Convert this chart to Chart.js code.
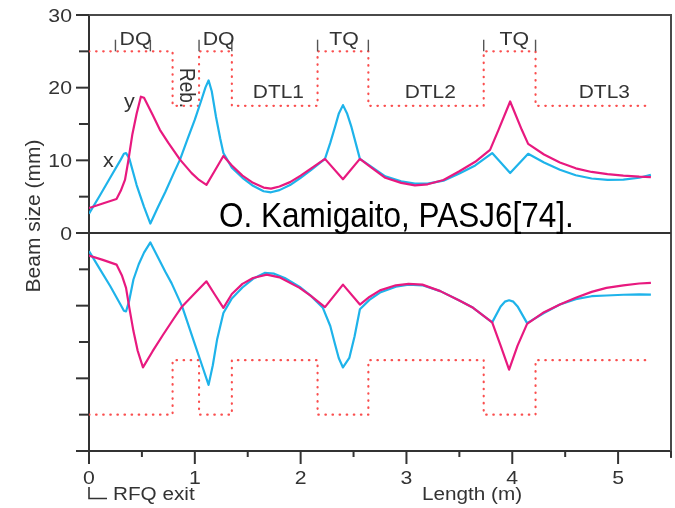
<!DOCTYPE html>
<html>
<head>
<meta charset="utf-8">
<script src="https://cdn.jsdelivr.net/npm/chart.js@4.4.1/dist/chart.umd.min.js"></script>
<style>
  html, body { margin: 0; padding: 0; background: #fff; }
  #wrap { width: 675px; height: 508px; }
</style>
</head>
<body>
<div id="wrap"><canvas id="c" width="675" height="508"></canvas></div>
<script>
// Beam envelope along the line after the RFQ exit (length in m, size in mm).
// Upper half: first tuning; lower half: second tuning, drawn below the axis.

// upper half, horizontal (x) envelope
const sXUpper = [0, 0.1, 0.2, 0.3, 0.33, 0.35, 0.38, 0.45, 0.52, 0.58, 0.65, 0.72, 0.8, 0.86, 0.93, 1.0, 1.06, 1.1, 1.13, 1.16, 1.2, 1.24, 1.27, 1.35, 1.45, 1.55, 1.65, 1.72, 1.8, 1.9, 2.0, 2.1, 2.23, 2.28, 2.325, 2.36, 2.40, 2.44, 2.48, 2.52, 2.56, 2.65, 2.8, 2.95, 3.08, 3.2, 3.35, 3.5, 3.65, 3.81, 3.98, 4.15, 4.3, 4.45, 4.6, 4.75, 4.9, 5.05, 5.2, 5.31];
const xUpper  = [2.65, 5.1, 7.6, 10.1, 10.9, 11.0, 10.3, 6.6, 3.6, 1.3, 3.5, 5.6, 8.2, 10.1, 12.9, 15.6, 18.2, 20.0, 21.0, 19.5, 16.0, 13.0, 11.0, 9.0, 7.6, 6.5, 5.75, 5.6, 5.9, 6.6, 7.6, 8.7, 10.2, 12.4, 14.6, 16.4, 17.6, 16.4, 14.6, 12.4, 10.2, 9.3, 7.8, 7.1, 6.8, 6.8, 7.2, 8.2, 9.3, 11.0, 8.25, 10.9, 9.7, 8.7, 7.95, 7.5, 7.3, 7.35, 7.6, 8.0];

// upper half, vertical (y) envelope
const sYUpper = [0, 0.13, 0.26, 0.3, 0.34, 0.37, 0.41, 0.45, 0.49, 0.52, 0.6, 0.67, 0.75, 0.86, 0.97, 1.04, 1.11, 1.19, 1.27, 1.35, 1.45, 1.55, 1.65, 1.72, 1.8, 1.9, 2.0, 2.1, 2.23, 2.40, 2.56, 2.65, 2.8, 2.95, 3.08, 3.2, 3.35, 3.5, 3.65, 3.79, 3.87, 3.98, 4.09, 4.15, 4.3, 4.45, 4.6, 4.75, 4.9, 5.05, 5.2, 5.31];
const yUpper  = [3.43, 4.05, 4.67, 5.8, 7.3, 9.8, 13.6, 16.4, 18.76, 18.6, 16.3, 14.2, 12.4, 10.1, 8.24, 7.3, 6.63, 8.6, 10.6, 9.3, 7.9, 6.9, 6.25, 6.1, 6.4, 7.0, 7.9, 8.9, 10.2, 7.4, 10.2, 9.2, 7.6, 6.9, 6.55, 6.7, 7.3, 8.5, 9.8, 11.44, 14.2, 18.1, 14.2, 12.27, 10.8, 9.7, 8.9, 8.4, 8.1, 7.9, 7.75, 7.7];

// lower half, horizontal (x) envelope
const sXLower = [0, 0.1, 0.2, 0.3, 0.33, 0.35, 0.38, 0.42, 0.47, 0.52, 0.58, 0.65, 0.72, 0.78, 0.88, 1.0, 1.07, 1.13, 1.17, 1.21, 1.27, 1.35, 1.45, 1.55, 1.66, 1.75, 1.85, 2.0, 2.1, 2.21, 2.28, 2.325, 2.36, 2.40, 2.46, 2.51, 2.56, 2.65, 2.75, 2.9, 3.02, 3.15, 3.32, 3.5, 3.63, 3.81, 3.89, 3.93, 3.97, 4.01, 4.05, 4.14, 4.3, 4.45, 4.6, 4.75, 4.89, 5.05, 5.2, 5.31];
const xLower  = [-2.5, -4.9, -7.3, -9.9, -10.7, -10.8, -9.3, -6.4, -4.3, -2.7, -1.3, -3.3, -5.3, -6.9, -10.1, -15.3, -18.3, -20.9, -18.2, -14.7, -11.0, -9.0, -7.5, -6.3, -5.5, -5.6, -6.2, -7.5, -8.7, -10.3, -12.8, -15.3, -17.2, -18.5, -17.2, -14.2, -10.5, -9.2, -8.2, -7.4, -7.1, -7.2, -8.0, -9.3, -10.3, -12.3, -10.1, -9.45, -9.26, -9.45, -10.1, -12.4, -11.0, -9.85, -9.1, -8.7, -8.6, -8.5, -8.45, -8.47];

// lower half, vertical (y) envelope
const sYLower = [0, 0.13, 0.26, 0.31, 0.35, 0.38, 0.42, 0.46, 0.51, 0.6, 0.7, 0.8, 0.88, 1.0, 1.11, 1.19, 1.27, 1.35, 1.45, 1.55, 1.68, 1.8, 1.99, 2.1, 2.23, 2.40, 2.56, 2.65, 2.75, 2.9, 3.02, 3.15, 3.32, 3.5, 3.63, 3.81, 3.89, 3.97, 4.05, 4.14, 4.3, 4.45, 4.6, 4.75, 4.89, 5.05, 5.2, 5.31];
const yLower  = [-3.1, -3.7, -4.35, -5.8, -7.55, -10.2, -13.5, -16.2, -18.5, -16.3, -14.0, -11.8, -10.1, -8.3, -6.65, -8.5, -10.3, -8.4, -7.0, -6.2, -5.73, -6.1, -7.55, -8.7, -10.2, -7.1, -9.85, -8.8, -7.9, -7.2, -7.0, -7.1, -8.0, -9.3, -10.3, -12.3, -15.5, -18.8, -15.5, -12.5, -10.9, -9.85, -8.9, -8.1, -7.55, -7.2, -6.95, -6.87];

// aperture outline (element boundaries in m, half-aperture in mm)
const apertureEdges  = [0, 0.79, 1.04, 1.35, 2.16, 2.64, 3.73, 4.22, 5.31];
const apertureLevels = [25, 17.5, 25, 17.5, 25, 17.5, 25, 17.5];

// quadrupole boundary marks above the outline
const quadMarks = [0.25, 0.58, 1.04, 1.35, 2.16, 2.64, 3.73, 4.22];

// element names: [text, centre position (m)]
const quadNames = [['DQ', 0.44], ['DQ', 1.225], ['TQ', 2.41], ['TQ', 4.02]];
const tankNames = [['DTL1', 1.79], ['DTL2', 3.225], ['DTL3', 4.87]];

// axis ticks
const lengthTicks = [0, 1, 2, 3, 4, 5];
const sizeTicks = [0, 10, 20, 30];

const CYAN = '#1eb3ea';
const MAGENTA = '#e8197f';
const APER = 'rgba(250, 70, 70, 0.95)';
const INK = '#333333';
const FONT = '"Liberation Sans", Arial, sans-serif';

const pts = (s, v) => s.map((p, i) => ({ x: p, y: v[i] }));
const aperturePts = sign => apertureEdges.map((e, i) => ({
  x: e, y: sign * apertureLevels[Math.min(i, apertureLevels.length - 1)]
}));

function text(ctx, str, x, y, o) {
  ctx.save();
  ctx.translate(x, y);
  if (o.rot) ctx.rotate(o.rot);
  ctx.scale(o.sx || 1, o.sy || 1);
  ctx.font = `${o.size}px ${FONT}`;
  ctx.fillStyle = o.color || INK;
  ctx.textAlign = o.align || 'center';
  ctx.textBaseline = 'alphabetic';
  ctx.fillText(str, 0, 0);
  ctx.restore();
}

function line(ctx, x1, y1, x2, y2) {
  ctx.beginPath();
  ctx.moveTo(x1, y1);
  ctx.lineTo(x2, y2);
  ctx.stroke();
}

// frame, ticks, labels and element annotations
const decorations = {
  id: 'decorations',
  afterDraw(chart) {
    const { ctx, chartArea: a, scales: { x, y } } = chart;
    ctx.save();
    ctx.lineCap = 'butt';

    // frame and zero line
    ctx.strokeStyle = '#4a4a4a';
    ctx.lineWidth = 2;
    line(ctx, a.left - 13, y.getPixelForValue(30), a.right + 1, y.getPixelForValue(30));
    line(ctx, a.right, a.top, a.right, a.bottom + 7);
    ctx.strokeStyle = INK;
    line(ctx, a.left - 13, y.getPixelForValue(0), a.right, y.getPixelForValue(0));

    // size ticks every 5 mm
    for (let v = -30; v <= 30; v += 5) {
      const py = y.getPixelForValue(v);
      const len = v % 10 === 0 ? 13 : 10;
      line(ctx, a.left - len, py, a.left, py);
    }
    // length ticks every 0.5 m
    for (let v = 0; v <= 5.5001; v += 0.5) {
      const px = x.getPixelForValue(v);
      const len = Math.abs(v - Math.round(v)) < 1e-6 ? 13 : 6;
      line(ctx, px, a.bottom, px, a.bottom + len);
    }

    // tick labels
    sizeTicks.forEach(v => text(ctx, String(v), a.left - 17, y.getPixelForValue(v) + 6.5,
      { size: 18, sx: 1.18, align: 'right' }));
    lengthTicks.forEach(v => text(ctx, String(v), x.getPixelForValue(v), 483.5,
      { size: 18, sx: 1.18 }));

    // axis titles
    text(ctx, 'Beam size (mm)', 40, 216, { size: 21, rot: -Math.PI / 2 });
    text(ctx, 'Length (m)', 472, 500, { size: 18, sx: 1.15 });

    // RFQ exit marker
    const x0 = x.getPixelForValue(0);
    ctx.lineWidth = 1.6;
    ctx.beginPath();
    ctx.moveTo(x0, 487);
    ctx.lineTo(x0, 498.5);
    ctx.lineTo(x0 + 18, 498.5);
    ctx.stroke();
    text(ctx, 'RFQ exit', x0 + 24, 499.5, { size: 18, sx: 1.15, align: 'left' });

    // quadrupole boundary marks
    ctx.strokeStyle = '#555';
    ctx.lineWidth = 1.4;
    quadMarks.forEach(s => {
      const px = x.getPixelForValue(s);
      line(ctx, px, y.getPixelForValue(25), px, y.getPixelForValue(26.6));
    });

    // element names
    quadNames.forEach(([t, s]) => text(ctx, t, x.getPixelForValue(s), 45, { size: 19, sx: 1.12 }));
    tankNames.forEach(([t, s]) => text(ctx, t, x.getPixelForValue(s), 98, { size: 19, sx: 1.1 }));
    text(ctx, 'Reb.', 180, 68, { size: 19, rot: Math.PI / 2, sy: 1.2, align: 'left' });

    // envelope names
    text(ctx, 'x', 108.5, 166.5, { size: 20.5, sx: 1.05 });
    text(ctx, 'y', 129.5, 107.5, { size: 20.5, sx: 1.05 });

    // reference
    text(ctx, 'O. Kamigaito, PASJ6[74].', 219, 226.5, { size: 35, sx: 0.9, align: 'left', color: '#000' });

    ctx.restore();
  }
};

new Chart(document.getElementById('c'), {
  type: 'line',
  data: {
    datasets: [
      { label: 'y', data: pts(sYUpper, yUpper), borderColor: MAGENTA, borderWidth: 2.2 },
      { label: 'y (lower)', data: pts(sYLower, yLower), borderColor: MAGENTA, borderWidth: 2.2 },
      { label: 'x', data: pts(sXUpper, xUpper), borderColor: CYAN, borderWidth: 2.2 },
      { label: 'x (lower)', data: pts(sXLower, xLower), borderColor: CYAN, borderWidth: 2.2 },
      { label: 'aperture', data: aperturePts(1), stepped: 'before', borderColor: APER,
        borderWidth: 2.2, borderDash: [0.5, 6.6], borderCapStyle: 'round' },
      { label: 'aperture (lower)', data: aperturePts(-1), stepped: 'before', borderColor: APER,
        borderWidth: 2.2, borderDash: [0.5, 6.6], borderCapStyle: 'round' }
    ]
  },
  options: {
    responsive: false,
    animation: false,
    devicePixelRatio: 1,
    parsing: true,
    layout: { padding: { top: 15, right: 4, left: 0, bottom: 0 } },
    elements: {
      point: { radius: 0, hoverRadius: 0 },
      line: { tension: 0, fill: false, borderJoinStyle: 'round' }
    },
    plugins: { legend: { display: false }, tooltip: { enabled: false } },
    events: [],
    scales: {
      x: {
        type: 'linear', min: 0, max: 5.5,
        ticks: { display: false, stepSize: 0.5 },
        grid: { display: false },
        border: { display: true, color: INK, width: 2 },
        afterFit(s) { s.height = 57; }
      },
      y: {
        type: 'linear', min: -30, max: 30,
        ticks: { display: false, stepSize: 5 },
        grid: { display: false },
        border: { display: true, color: INK, width: 2 },
        afterFit(s) { s.width = 89; }
      }
    }
  },
  plugins: [decorations]
});
</script>
</body>
</html>
